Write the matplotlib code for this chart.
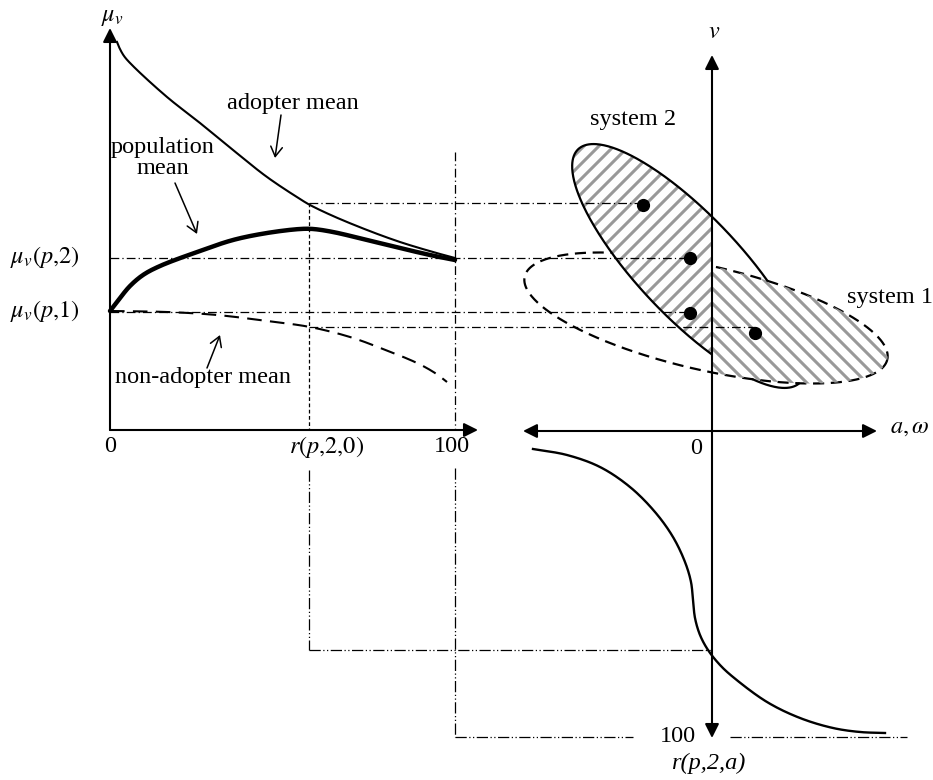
import numpy as np
import matplotlib.pyplot as plt
from matplotlib.patches import Polygon
from matplotlib.collections import LineCollection

plt.rcParams['font.family'] = ['Liberation Serif', 'DejaVu Serif']
plt.rcParams['mathtext.fontset'] = 'stix'

# everything lives in figure pixels: x to the right, y downwards
W, H = 933, 780

# left panel curves (share of adopters 0..100 on x, mean valuation on y)
adopter_x = [117, 119, 124, 133, 167, 200, 233, 267, 300, 310, 333, 367, 400, 433, 455]
adopter_y = [42, 47, 56, 66, 97, 123, 150, 177, 199, 205, 216, 230, 242, 252, 258]
pop_x = [110, 120, 130, 143, 160, 200, 233, 267, 300, 313, 333, 367, 400, 430, 455]
pop_y = [311, 298, 286, 275, 266, 251, 240, 233, 229, 229, 232, 240, 248, 255, 260]
nonadopt_x = [110, 167, 217, 267, 310, 350, 383, 417, 435, 447]
nonadopt_y = [311, 312, 315, 321, 327, 337, 349, 363, 373, 382]

# right panel: adoption share as a function of a (S-shaped curve)
share_x = [533, 567, 600, 630, 655, 673, 685, 691, 693, 695, 700, 708, 720, 733, 767, 800, 833, 860, 885]
share_y = [449, 455, 467, 487, 512, 537, 562, 582, 600, 618, 635, 650, 665, 677, 702, 718, 728, 732, 733]

# system 1 (dashed) and system 2 (solid) ellipses: centre, half axes, tilt in degrees
sys1 = dict(cx=706, cy=318, a=186, b=52, ang=12.9)
sys2 = dict(cx=689, cy=266, a=161, b=51, ang=46.5)

# the four points projected onto the left panel
dot_x = [643, 690, 690, 755]
dot_y = [205, 258, 313, 333]

# guide levels
y_mu2, y_mu1, y_top, y_low = 258, 312, 203, 327
x_r20, x_100, x_v0 = 309, 455, 712
y_haxis, y_share = 430, 650
y_bottom = 737

dashdot = (0, (7, 2.5, 1, 2.5))
dashdotdot = (0, (9, 2, 1, 2, 1, 2))


def smooth(xs, ys, n=20):
    # centripetal Catmull-Rom through the traced points
    p = np.column_stack([xs, ys]).astype(float)
    p = np.vstack([2 * p[0] - p[1], p, 2 * p[-1] - p[-2]])
    out = []
    for i in range(1, len(p) - 2):
        p0, p1, p2, p3 = p[i - 1], p[i], p[i + 1], p[i + 2]
        t0 = 0.0
        t1 = t0 + np.linalg.norm(p1 - p0) ** 0.5
        t2 = t1 + np.linalg.norm(p2 - p1) ** 0.5
        t3 = t2 + np.linalg.norm(p3 - p2) ** 0.5
        t = np.linspace(t1, t2, n, endpoint=False)[:, None]
        a1 = (t1 - t) / (t1 - t0) * p0 + (t - t0) / (t1 - t0) * p1
        a2 = (t2 - t) / (t2 - t1) * p1 + (t - t1) / (t2 - t1) * p2
        a3 = (t3 - t) / (t3 - t2) * p2 + (t - t2) / (t3 - t2) * p3
        b1 = (t2 - t) / (t2 - t0) * a1 + (t - t0) / (t2 - t0) * a2
        b2 = (t3 - t) / (t3 - t1) * a2 + (t - t1) / (t3 - t1) * a3
        out.append((t2 - t) / (t2 - t1) * b1 + (t - t1) / (t2 - t1) * b2)
    out.append(p[-2][None, :])
    out = np.vstack(out)
    return out[:, 0], out[:, 1]


def ellipse_xy(p, n=500):
    t = np.linspace(0, 2 * np.pi, n)
    ang = np.deg2rad(p['ang'])
    x = p['cx'] + p['a'] * np.cos(t) * np.cos(ang) - p['b'] * np.sin(t) * np.sin(ang)
    y = p['cy'] + p['a'] * np.cos(t) * np.sin(ang) + p['b'] * np.sin(t) * np.cos(ang)
    return x, y


def inside(p, x, y):
    ang = np.deg2rad(p['ang'])
    dx, dy = x - p['cx'], y - p['cy']
    du = dx * np.cos(ang) + dy * np.sin(ang)
    dw = -dx * np.sin(ang) + dy * np.cos(ang)
    return (du / p['a']) ** 2 + (dw / p['b']) ** 2 < 1.0


def hatch(ax, xy, slope, step=15, z=4):
    patch = Polygon(xy, closed=True, facecolor='none', edgecolor='none')
    ax.add_patch(patch)
    segs = []
    # lines through points on the v axis so both halves meet in a chevron
    for y0 in np.arange(3, H + 400, step):
        segs.append([(x_v0 - 400, y0 - slope * 400), (x_v0 + 400, y0 + slope * 400)])
    lc = LineCollection(segs, colors='#999999', linewidths=2.2, zorder=z)
    ax.add_collection(lc)
    lc.set_clip_path(patch)


def arrow(ax, tail, tip, style='-|>', lw=1.5, ms=12):
    ax.annotate('', xy=tip, xytext=tail,
                arrowprops=dict(arrowstyle=style, lw=lw, color='k', shrinkA=0, shrinkB=0,
                                mutation_scale=ms), zorder=7)


fig = plt.figure(figsize=(W / 100, H / 100), dpi=100)
ax = fig.add_axes([0, 0, 1, 1])
ax.set_xlim(0, W)
ax.set_ylim(H, 0)
ax.axis('off')

head = '-|>,head_length=0.7,head_width=0.35'
# axes of the left panel
arrow(ax, (110, y_haxis), (110, 28), style=head)
arrow(ax, (110, y_haxis), (478, y_haxis), style=head)

# guide lines
gl = dict(color='k', lw=0.9, zorder=5)
ax.plot([x_r20, dot_x[0] - 3], [y_top, y_top], ls=dashdot, **gl)
ax.plot([110, dot_x[1]], [y_mu2, y_mu2], ls=dashdot, **gl)
ax.plot([110, dot_x[2]], [y_mu1, y_mu1], ls=dashdot, **gl)
ax.plot([x_r20, dot_x[3]], [y_low, y_low], ls=dashdot, **gl)
ax.plot([x_r20, x_r20], [y_top, y_haxis], ls=(0, (3, 2)), **gl)
ax.plot([x_100, x_100], [152, y_haxis], ls=dashdot, **gl)
ax.plot([x_r20, x_r20], [470, y_share], ls=dashdotdot, **gl)
ax.plot([x_r20, x_v0], [y_share, y_share], ls=dashdotdot, **gl)
ax.plot([x_100, x_100], [468, y_bottom], ls=dashdotdot, **gl)
ax.plot([x_100, 633], [y_bottom, y_bottom], ls=dashdotdot, **gl)
ax.plot([730, 907], [y_bottom, y_bottom], ls=dashdotdot, **gl)

# left panel curves
ax.plot(*smooth(adopter_x, adopter_y), color='k', lw=1.5, zorder=6)
ax.plot(*smooth(pop_x, pop_y), color='k', lw=3.2, zorder=6, solid_capstyle='round')
ax.plot(*smooth(nonadopt_x, nonadopt_y), color='k', lw=1.5, ls=(0, (7, 4)), zorder=6)

# callout arrows
callout = '->,head_length=0.5,head_width=0.3'
arrow(ax, (281, 115), (275, 158), style=callout, lw=1.1, ms=14)
arrow(ax, (175, 183), (197, 234), style=callout, lw=1.1, ms=14)
arrow(ax, (207, 368), (220, 335), style=callout, lw=1.1, ms=14)

# right panel: system 1 dashed ellipse
e1x, e1y = ellipse_xy(sys1)
ax.plot(e1x, e1y, color='k', lw=1.6, ls=(0, (5, 3)), zorder=2)

# system 2: white-filled, hatched on the left of the v axis
e2x, e2y = ellipse_xy(sys2)
left_xy = np.column_stack([np.minimum(e2x, x_v0 - 1), e2y])
ax.add_patch(Polygon(left_xy, closed=True, facecolor='white', edgecolor='none', zorder=3))
hatch(ax, left_xy, slope=-1)
right_xy = np.column_stack([np.maximum(e1x, x_v0 + 1), e1y])
hatch(ax, right_xy, slope=1)

vis = (e2x < x_v0) | ~inside(sys1, e2x, e2y)
ax.plot(e2x, np.where(vis, e2y, np.nan), color='k', lw=1.6, zorder=5)

ax.plot(dot_x, dot_y, 'o', color='k', ms=8.5, zorder=8)

# right panel axes
both = '<|-|>,head_length=0.7,head_width=0.35'
arrow(ax, (523, y_haxis + 1), (877, y_haxis + 1), style=both)
arrow(ax, (x_v0, 738), (x_v0, 55), style=both)

ax.plot(*smooth(share_x, share_y), color='k', lw=1.7, zorder=6)

# texts
fs = 17.5
ax.text(112, 17, r'$\mu_v$', ha='center', va='center', fontsize=fs)
ax.text(293, 103, 'adopter mean', ha='center', va='center', fontsize=fs)
ax.text(163, 158, 'population\nmean', ha='center', va='center', fontsize=fs, linespacing=0.95)
ax.text(203, 378, 'non-adopter mean', ha='center', va='center', fontsize=fs)
ax.text(45, 257, r'$\mu_v(p{,}2)$', ha='center', va='center', fontsize=fs)
ax.text(45, 311, r'$\mu_v(p{,}1)$', ha='center', va='center', fontsize=fs)
ax.text(110, 447, '0', ha='center', va='center', fontsize=fs)
ax.text(327, 447, r'$r(p{,}2{,}0)$', ha='center', va='center', fontsize=fs)
ax.text(452, 447, '100', ha='center', va='center', fontsize=fs)
ax.text(714, 33, r'$v$', ha='center', va='center', fontsize=fs)
ax.text(633, 120, 'system 2', ha='center', va='center', fontsize=fs)
ax.text(890, 297, 'system 1', ha='center', va='center', fontsize=fs)
ax.text(910, 428, r'$a,\omega$', ha='center', va='center', fontsize=fs)
ax.text(696, 449, '0', ha='center', va='center', fontsize=fs)
ax.text(678, 736, '100', ha='center', va='center', fontsize=fs)
ax.text(708, 763, 'r(p,2,a)', ha='center', va='center', fontsize=fs, fontstyle='italic')

fig.savefig('out.png', dpi=100)
